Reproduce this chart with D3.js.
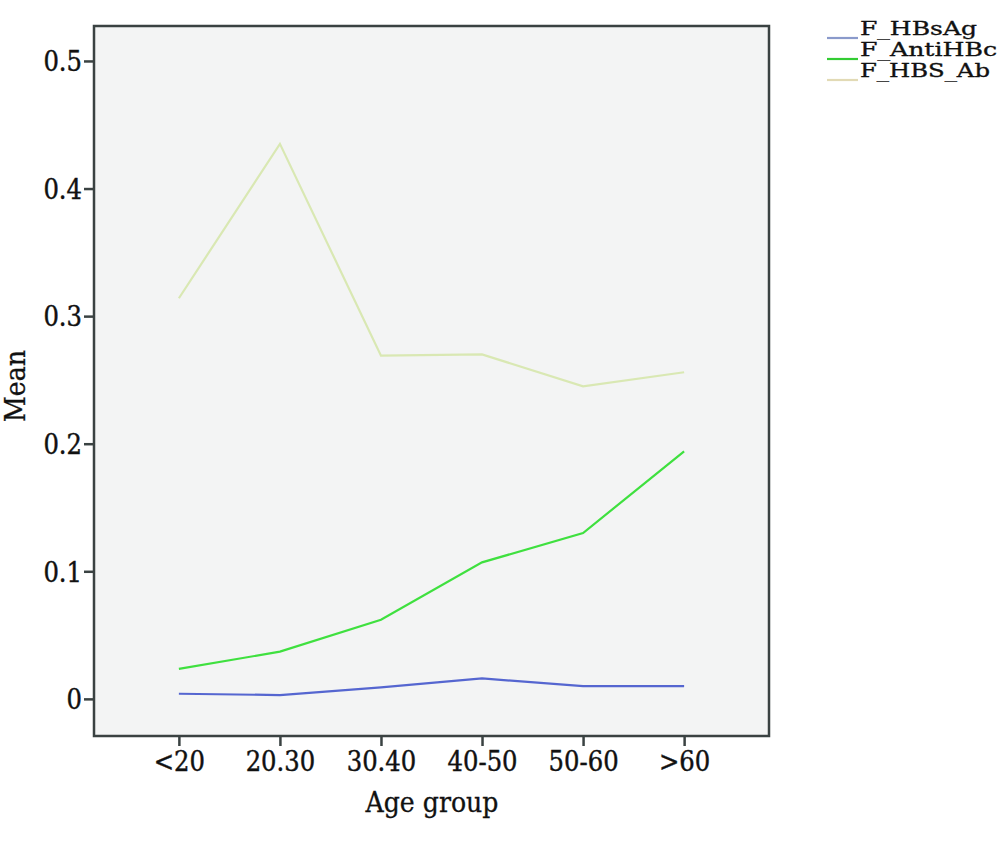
<!DOCTYPE html>
<html><head><meta charset="utf-8">
<script src="https://cdn.jsdelivr.net/npm/d3@7"></script>
<style>
body{margin:0;background:#fff;}
text{font-family:"DejaVu Serif","Liberation Serif",serif;font-stretch:condensed;fill:#111;}
</style></head>
<body><svg id="c" width="1000" height="849"></svg>
<script>
const categories = ["<20","20.30","30.40","40-50","50-60",">60"];
const seriesNames = ["F_HBsAg","F_AntiHBc","F_HBS_Ab"];
const hbsag = [0.004,0.003,0.009,0.016,0.010,0.010];
const antihbc = [0.0235,0.037,0.062,0.107,0.130,0.194];
const hbsab = [0.314,0.435,0.269,0.270,0.245,0.256];
const yTicks = [0,0.1,0.2,0.3,0.4,0.5];
const colors = ["#5566d0","#3fe03f","#d9e8b3"];
const legendColors = ["#8a9acb","#33cc33","#e2dab5"];
const legendWidths = [117,137,130];

const series = [hbsag, antihbc, hbsab];
const svg = d3.select("#c");
const L=94,R=769,T=26,B=736;
const x = d3.scalePoint().domain(categories).range([L,R]).padding(0.84);
const y = d3.scaleLinear().domain([-0.0291,0.5274]).range([B,T]);

svg.append("rect").attr("x",L).attr("y",T).attr("width",R-L).attr("height",B-T)
  .attr("fill","#f3f4f4").attr("stroke","#3a4242").attr("stroke-width",2.5);

const line = d3.line().x((d,i)=>x(categories[i])).y(d=>y(d));
series.forEach((s,k)=>{
  svg.append("path").datum(s).attr("d",line).attr("fill","none")
    .attr("stroke",colors[k]).attr("stroke-width",2.2);
});

const yAxis = d3.axisLeft(y).tickValues(yTicks).tickFormat(d=>d===0?"0":d3.format(".1f")(d)).tickSize(10).tickPadding(2);
const gy = svg.append("g").attr("transform",`translate(${L},0)`).call(yAxis);
gy.select(".domain").remove();
gy.selectAll(".tick line").attr("stroke","#3a4242").attr("stroke-width",2.5);
gy.selectAll(".tick text").attr("font-size",27).attr("fill","#111").attr("dy","0.36em")
  .attr("stroke","#111").attr("stroke-width",0.4);

const xAxis = d3.axisBottom(x).tickSize(10).tickPadding(6);
const gx = svg.append("g").attr("transform",`translate(0,${B})`).call(xAxis);
gx.select(".domain").remove();
gx.selectAll(".tick line").attr("stroke","#3a4242").attr("stroke-width",2.5);
gx.selectAll(".tick text").attr("font-size",27).attr("fill","#111")
  .attr("stroke","#111").attr("stroke-width",0.4);

svg.append("text").attr("x",432).attr("y",812).attr("text-anchor","middle")
  .attr("font-size",28).attr("stroke","#111").attr("stroke-width",0.3).text("Age group");
svg.append("text").attr("transform","translate(25,386) rotate(-90)").attr("text-anchor","middle")
  .attr("font-size",28).attr("stroke","#111").attr("stroke-width",0.3).text("Mean");

const lg = svg.append("g");
seriesNames.forEach((n,k)=>{
  const by = 35 + k*21;
  lg.append("line").attr("x1",827).attr("x2",858).attr("y1",by+3).attr("y2",by+3)
    .attr("stroke",legendColors[k]).attr("stroke-width",2.2);
  lg.append("text").attr("x",860).attr("y",by).attr("font-size",18)
    .attr("textLength",legendWidths[k]).attr("lengthAdjust","spacingAndGlyphs")
    .attr("stroke","#111").attr("stroke-width",0.3).text(n);
});
</script></body></html>
